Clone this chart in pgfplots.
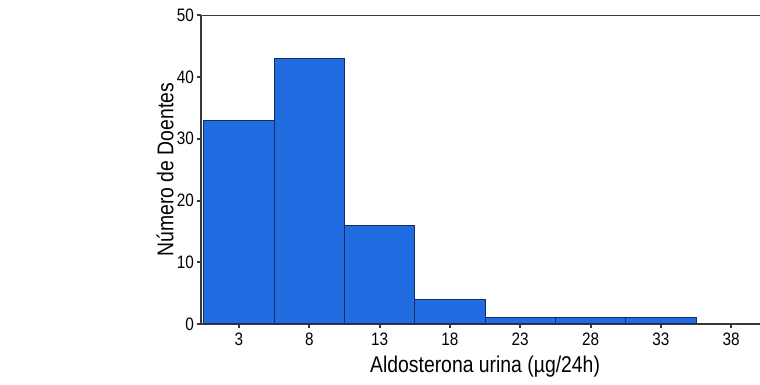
\documentclass[border=0pt]{standalone}
\usepackage{pgfplots}
\pgfplotsset{compat=1.18}
\usepackage{fontspec}
\setmainfont{Liberation Sans}[FakeStretch=0.85]
\definecolor{barblue}{RGB}{32,108,224}
\definecolor{baredge}{RGB}{22,45,95}
\definecolor{axgray}{RGB}{55,55,60}
\begin{document}
\begin{tikzpicture}
\useasboundingbox (0,0) rectangle (380pt,192.5pt);
\clip (0,0) rectangle (380pt,192.5pt);
\begin{axis}[
  at={(100.5pt,30.5pt)}, anchor=south west,
  scale only axis,
  width=288.3pt, height=154.35pt,
  xmin=0.3, xmax=41.3, ymin=0, ymax=50,
  xtick={3,8,13,18,23,28,33,38},
  ytick={0,10,20,30,40,50},
  xtick pos=bottom, ytick pos=left,
  axis line style={axgray, line width=0.6pt},
  tick style={axgray, line width=1pt},
  tick align=outside,
  major tick length=2pt,
  x tick label style={font=\fontsize{9}{10}\selectfont, yshift=1pt},
  y tick label style={font=\fontsize{9}{10}\selectfont, xshift=2pt},
  /pgf/number format/assume math mode=true,
  xlabel={Aldosterona urina (µg/24h)},
  ylabel={Número de Doentes},
  every axis x label/.style={at={(axis cs:20.5,0)}, anchor=center, yshift=-21.5pt, font=\fontsize{11.4}{12}\selectfont},
  every axis y label/.style={at={(rel axis cs:0,0.5)}, anchor=center, xshift=-18pt, rotate=90, font=\fontsize{11.4}{12}\selectfont},
]
\addplot[ybar interval, fill=barblue, draw=baredge, line width=0.5pt]
  coordinates {(0.5,33) (5.5,43) (10.5,16) (15.5,4) (20.5,1) (25.5,1) (30.5,1) (35.5,1)};
\end{axis}
\end{tikzpicture}
\end{document}
